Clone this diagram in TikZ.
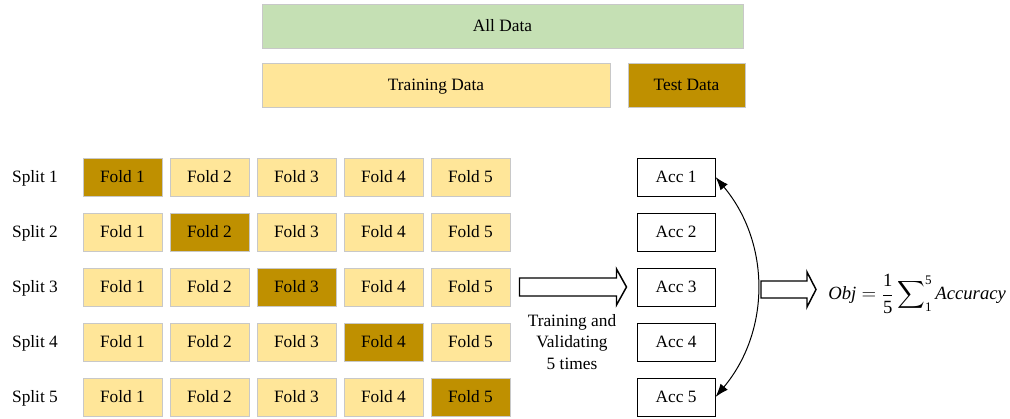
\documentclass[tikz,border=0pt]{standalone}
\usepackage{amsmath}
\usepackage{fontspec}
\setmainfont{Liberation Serif}
\usepackage{xcolor}
\usepackage{tikz}
\usetikzlibrary{
    positioning,
    arrows.meta,
    calc
}
\definecolor{alldata}{HTML}{C5E0B4}
\definecolor{trainfill}{HTML}{FFE699}
\definecolor{testfill}{HTML}{BF9000}
\definecolor{boxline}{HTML}{C8C8C8}
\tikzset{
    centred/.style={text height=10pt, text depth=1.4pt},
    databox/.style={centred, draw=boxline, line width=0.75pt, minimum height=33pt, inner sep=0pt},
    fold/.style={centred, draw=boxline, line width=0.75pt, fill=trainfill, minimum width=59.25pt, minimum height=28.5pt, inner sep=0pt},
    foldtest/.style={fold, fill=testfill},
    accbox/.style={centred, draw=black, line width=0.75pt, fill=white, minimum width=58.5pt, minimum height=28.5pt, inner sep=0pt},
    hollow/.style={draw=black, line width=1.1pt, fill=white, line join=miter}
}

\begin{document}
\begin{tikzpicture}[x=0.75pt, y=0.75pt, font=\fontsize{13}{16}\selectfont]
            \useasboundingbox (0,0) rectangle (1010,-418);
            % 上段のデータ
            \node[databox, fill=alldata, minimum width=360.75pt] (all) at (502.5,-26) {All Data};
            \node[databox, fill=trainfill, minimum width=261pt] (train) at (436,-85) {Training Data};
            \node[databox, fill=testfill, minimum width=87.75pt] (test) at (686.5,-85) {Test Data};
            % 分割と精度
            \foreach \r in {1,...,5}{
                \node[centred] (s\r) at (35,{-122-55*\r}) {Split \r};
                \foreach \c in {1,...,5}{
                    \ifnum\r=\c \def\sty{foldtest}\else\def\sty{fold}\fi
                    \node[\sty] (f\r\c) at ({35.5+87*\c},{-122-55*\r}) {Fold \c};
                }
                \node[accbox] (a\r) at (676,{-122-55*\r}) {Acc \r};
            }
            % 白抜き矢印
            \draw[hollow] ($(f35.east)+(9,9)$) -- ($(a3.west)+(-20,9)$) -- ++(0,9)
                -- ($(a3.west)+(-10,0)$) -- ++(-10,-18) -- ++(0,9) -- ($(f35.east)+(9,-9)$) -- cycle;
            \node[align=center] (tv) at (572,-342) {Training and\\Validating\\5 times};
            \draw[line width=0.75pt, {Latex[length=10pt,width=7pt]}-{Latex[length=10pt,width=7pt]}]
                (a1.east) to[bend left=40] (a5.east);
            \coordinate (arr) at (761,-289.5);
            \draw[hollow] ($(arr)+(0,8.5)$) -- ++(46,0) -- ++(0,9) -- ($(arr)+(55,0)$)
                -- ++(-9,-17.5) -- ++(0,9) -- ($(arr)+(0,-8.5)$) -- cycle;
            \node[anchor=west, inner sep=0pt, font=\fontsize{14}{17}\selectfont] (obj) at (828,-294)
                {$\textit{Obj} = \displaystyle\frac{\text{1}}{\text{5}}\sum\nolimits_{\text{1}}^{\text{5}}\textit{Accuracy}$};
        \end{tikzpicture}
\end{document}
